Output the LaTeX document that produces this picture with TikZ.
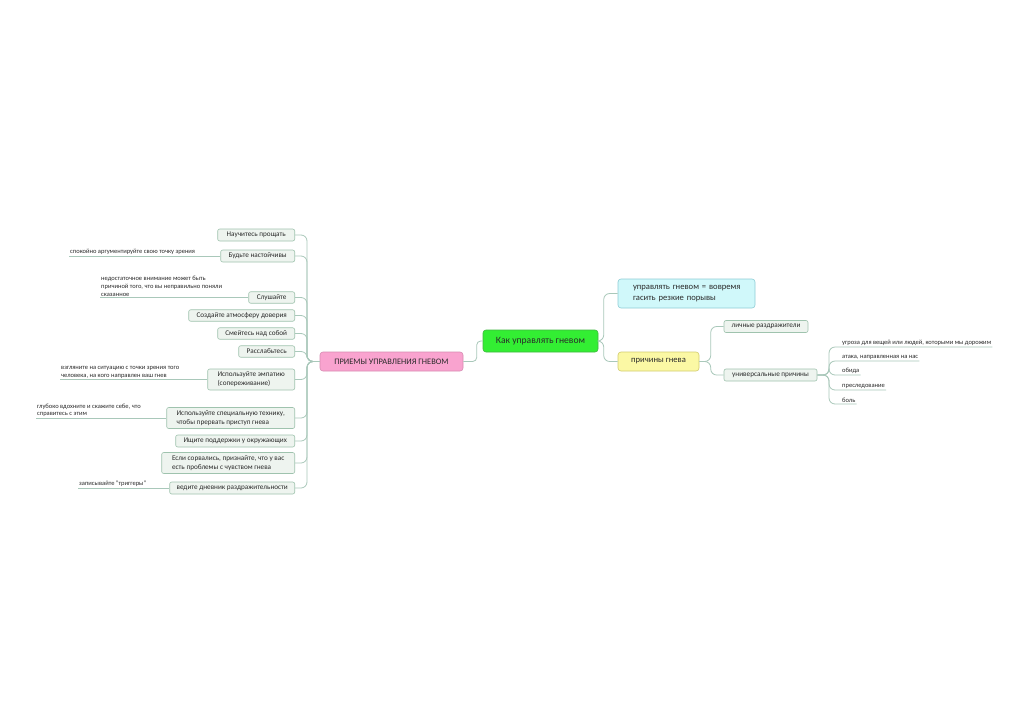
\documentclass[tikz,border=0pt]{standalone}
\usepackage{fontspec}
\setmainfont{Carlito}
\usetikzlibrary{calc}
\definecolor{conncol}{HTML}{A9C8BA}
\definecolor{subfill}{HTML}{EEF4EF}
\definecolor{subdraw}{HTML}{9FC3AE}
\definecolor{greenfill}{HTML}{33EE33}
\definecolor{greendraw}{HTML}{40B840}
\definecolor{pinkfill}{HTML}{F9A3CF}
\definecolor{pinkdraw}{HTML}{D78CB2}
\definecolor{cyanfill}{HTML}{D0F8FA}
\definecolor{cyandraw}{HTML}{8ECDD6}
\definecolor{yelfill}{HTML}{FBF8A4}
\definecolor{yeldraw}{HTML}{D3CC70}
\definecolor{txt}{HTML}{2A2A2A}
\tikzset{
  conn/.style={draw=conncol, line width=0.8pt, rounded corners=6pt},
  subbox/.style={draw=subdraw, fill=subfill, rounded corners=2pt, line width=0.6pt,
    text=txt, font=\fontsize{7.2}{9}\selectfont, inner sep=0pt, align=center},
  leaftext/.style={text=txt, font=\fontsize{6.5}{7.7}\selectfont, inner sep=1pt, align=left, anchor=south west},
  mainbox/.style={rounded corners=3pt, line width=0.6pt, text=txt, inner sep=0pt}
}
\begin{document}
\begin{tikzpicture}[x=1pt,y=-1pt]
\useasboundingbox[fill=white] (0,0) rectangle (1024,723);
% central
\node[mainbox, draw=greendraw, fill=greenfill, minimum width=115pt, minimum height=22pt,
  font=\fontsize{9.6}{11}\selectfont] (root) at (540.5,341) {Как управлять гневом};
\node[mainbox, draw=pinkdraw, fill=pinkfill, minimum width=143pt, minimum height=19pt,
  font=\fontsize{8.4}{10}\selectfont] (pink) at (391.5,361.5) {ПРИЕМЫ УПРАВЛЕНИЯ ГНЕВОМ};
\node[mainbox, draw=cyandraw, fill=cyanfill, minimum width=137pt, minimum height=29pt,
  font=\fontsize{8.6}{11}\selectfont, align=left, text width=117pt] (cyan) at (686.5,293.5)
  {\hspace*{5pt}управлять гневом = вовремя\\\hspace*{5pt}гасить резкие порывы};
\node[mainbox, draw=yeldraw, fill=yelfill, minimum width=81pt, minimum height=19pt,
  font=\fontsize{8.6}{10}\selectfont] (yel) at (658.5,361.5) {причины гнева};
% right sub
\node[subbox, minimum width=84pt, minimum height=12pt] (lich) at (766,326.5) {личные раздражители};
\node[subbox, minimum width=93pt, minimum height=12pt] (univ) at (770.5,375) {универсальные причины};
% right leaves
\node[leaftext] (r1) at (841,347) {угроза для вещей или людей, которыми мы дорожим};
\node[leaftext] (r2) at (841,361) {атака, направленная на нас};
\node[leaftext] (r3) at (841,375) {обида};
\node[leaftext] (r4) at (841,390) {преследование};
\node[leaftext] (r5) at (841,404) {боль};
% left sub
\node[subbox, anchor=east, minimum width=77pt, minimum height=12pt] (l1) at (295,235) {Научитесь прощать};
\node[subbox, anchor=east, minimum width=74pt, minimum height=12pt] (l2) at (295,256) {Будьте настойчивы};
\node[subbox, anchor=east, minimum width=46pt, minimum height=11.5pt] (l3) at (295,297.5) {Слушайте};
\node[subbox, anchor=east, minimum width=106pt, minimum height=11.5pt] (l4) at (295,315.5) {Создайте атмосферу доверия};
\node[subbox, anchor=east, minimum width=77pt, minimum height=11.5pt] (l5) at (295,333.5) {Смейтесь над собой};
\node[subbox, anchor=east, minimum width=56pt, minimum height=11.5pt] (l6) at (295,351.5) {Расслабьтесь};
\node[subbox, anchor=east, minimum width=87pt, minimum height=21pt, align=left] (l7) at (295,379.5) {Используйте эмпатию\\(сопереживание)};
\node[subbox, anchor=east, minimum width=128pt, minimum height=21pt, align=left] (l8) at (295,418) {Используйте специальную технику,\\чтобы прервать приступ гнева};
\node[subbox, anchor=east, minimum width=119pt, minimum height=12pt] (l9) at (295,441) {Ищите поддержки у окружающих};
\node[subbox, anchor=east, minimum width=133pt, minimum height=21pt, align=left] (l10) at (295,463) {Если сорвались, признайте, что у вас\\есть проблемы с чувством гнева};
\node[subbox, anchor=east, minimum width=125pt, minimum height=12pt] (l11) at (295,488) {ведите дневник раздражительности};
% left leaves
\node[leaftext] (a2) at (69,256) {спокойно аргументируйте свою точку зрения};
\node[leaftext] (a3) at (100,297.5) {недостаточное внимание может быть\\причиной того, что вы неправильно поняли\\сказанное};
\node[leaftext] (a7) at (60,379.5) {взгляните на ситуацию с точки зрения того\\человека, на кого направлен ваш гнев};
\node[leaftext] (a8) at (36,418) {глубоко вдохните и скажите себе, что\\справитесь с этим};
\node[leaftext] (a11) at (78,488) {записывайте "триггеры"};
% connectors center
\draw[conn, rounded corners=4pt] (pink.east) -| ($(root.west)+(-6,0)$) -- (root.west);
\foreach \t in {cyan,yel}
  \draw[conn] (root.east) -| ($(\t.west)+(-14,0)$) -- (\t.west);
\foreach \t in {lich,univ}
  \draw[conn] (yel.east) -| ($(\t.west)+(-13,0)$) -- (\t.west);
\foreach \t in {r1,r2,r3,r4,r5}
  \draw[conn] (univ.east) -| ($(\t.south west)+(-12,0)$) -- (\t.south west) -- (\t.south east);
\foreach \t in {l1,l2,l3,l4,l5,l6,l7,l8,l9,l10,l11}
  \draw[conn] (pink.west) -| ($(\t.east)+(12,0)$) -- (\t.east);
\draw[conn] (a2.south west) -- (l2.west);
\draw[conn] (a3.south west) -- (l3.west);
\draw[conn] (a7.south west) -- (l7.west);
\draw[conn] (a8.south west) -- (l8.west);
\draw[conn] (a11.south west) -- (l11.west);
\end{tikzpicture}
\end{document}
